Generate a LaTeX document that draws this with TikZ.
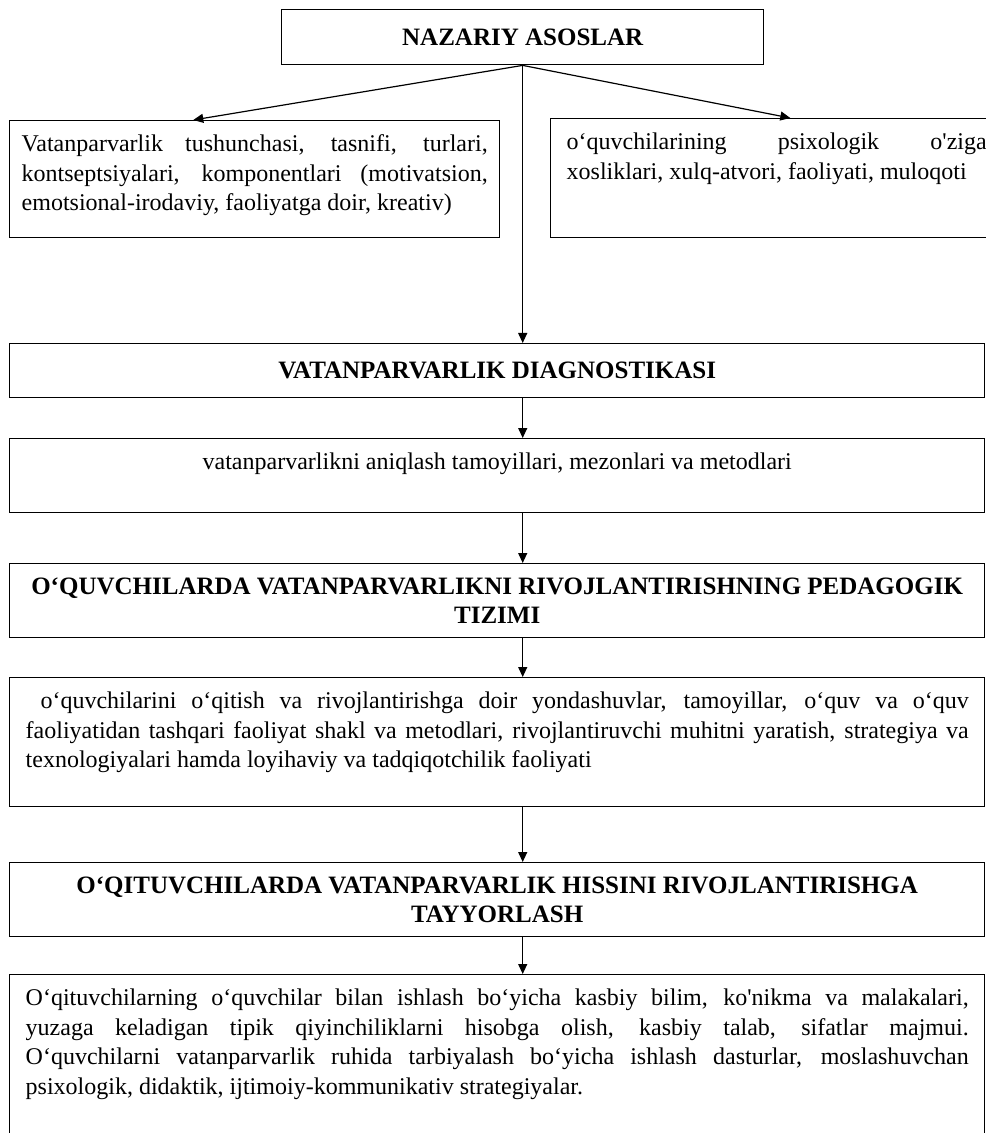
\documentclass[tikz,border=0pt]{standalone}
\usepackage{fontspec}
\setmainfont{Liberation Serif}
\usetikzlibrary{arrows.meta,calc}
\tolerance=10000
\hbadness=10000
\hyphenpenalty=10000
\exhyphenpenalty=10000

\begin{document}
\begin{tikzpicture}[x=0.5pt,y=-0.5pt,
	box/.style={draw,line width=0.7pt,inner xsep=6pt,inner ysep=5pt,anchor=north west,font=\fontsize{12}{14.8}\selectfont},
	title/.style={box,font=\fontsize{12.5}{14.6}\selectfont\bfseries,align=center},
	arr/.style={line width=0.6pt,-{Triangle[length=5pt,width=4.5pt]}}]
	\useasboundingbox (0,0) rectangle (985,1133);
	% headings
	\node[title,minimum width=241pt,minimum height=27.5pt] (nazariy) at (281,9) {NAZARIY ASOSLAR};
	\node[title,minimum width=487.5pt,minimum height=27pt] (diag) at (9,343) {VATANPARVARLIK DIAGNOSTIKASI};
	\node[title,minimum width=487.5pt,minimum height=37pt] (pedtizim) at (9,563) {O‘QUVCHILARDA VATANPARVARLIKNI RIVOJLANTIRISHNING PEDAGOGIK\\TIZIMI};
	\node[title,minimum width=487.5pt,minimum height=37pt] (tayyor) at (9,862) {O‘QITUVCHILARDA VATANPARVARLIK HISSINI RIVOJLANTIRISHGA\\TAYYORLASH};
	% text boxes
	\node[box] (tushuncha) at (9,120) {\parbox[t][48.5pt][t]{233pt}{\strut Vatanparvarlik tushunchasi, tasnifi, turlari,\linebreak kontseptsiyalari, komponentlari (motivatsion,\linebreak emotsional-irodaviy, faoliyatga doir, kreativ)}};
	\node[box,inner xsep=8pt] (psixo) at (550,118) {\parbox[t][49.5pt][t]{210pt}{\strut o‘quvchilarining psixologik o\textquotesingle ziga\linebreak xosliklari, xulq-atvori, faoliyati, muloqoti}};
	\node[box,inner xsep=8pt] (aniqlash) at (9,438) {\parbox[t][27pt][t]{471.5pt}{\centering\strut vatanparvarlikni aniqlash tamoyillari, mezonlari va metodlari}};
	\node[box,inner xsep=8pt] (yondash) at (9,677) {\parbox[t][54.5pt][t]{471.5pt}{\strut\ o‘quvchilarini o‘qitish va rivojlantirishga doir yondashuvlar, tamoyillar, o‘quv va o‘quv\linebreak faoliyatidan tashqari faoliyat shakl va metodlari, rivojlantiruvchi muhitni yaratish, strategiya va\linebreak texnologiyalari hamda loyihaviy va tadqiqotchilik faoliyati}};
	\node[box,inner xsep=8pt] (malaka) at (9,974) {\parbox[t][90pt][t]{471.5pt}{\strut O‘qituvchilarning o‘quvchilar bilan ishlash bo‘yicha kasbiy bilim, ko\textquotesingle nikma va malakalari,\linebreak yuzaga keladigan tipik qiyinchiliklarni hisobga olish, kasbiy talab, sifatlar majmui.\linebreak O‘quvchilarni vatanparvarlik ruhida tarbiyalash bo‘yicha ishlash dasturlar, moslashuvchan\linebreak psixologik, didaktik, ijtimoiy-kommunikativ strategiyalar.}};
	% arrows
	\draw[arr] (nazariy.south) -- ($(tushuncha.north west)!0.375!(tushuncha.north east)$);
	\draw[arr] (nazariy.south) -- ($(psixo.north west)!0.53!(psixo.north east)$);
	\draw[arr] (nazariy.south) -- (nazariy.south |- diag.north);
	\draw[arr] (nazariy.south |- diag.south) -- (nazariy.south |- aniqlash.north);
	\draw[arr] (nazariy.south |- aniqlash.south) -- (nazariy.south |- pedtizim.north);
	\draw[arr] (nazariy.south |- pedtizim.south) -- (nazariy.south |- yondash.north);
	\draw[arr] (nazariy.south |- yondash.south) -- (nazariy.south |- tayyor.north);
	\draw[arr] (nazariy.south |- tayyor.south) -- (nazariy.south |- malaka.north);
\end{tikzpicture}
\end{document}
